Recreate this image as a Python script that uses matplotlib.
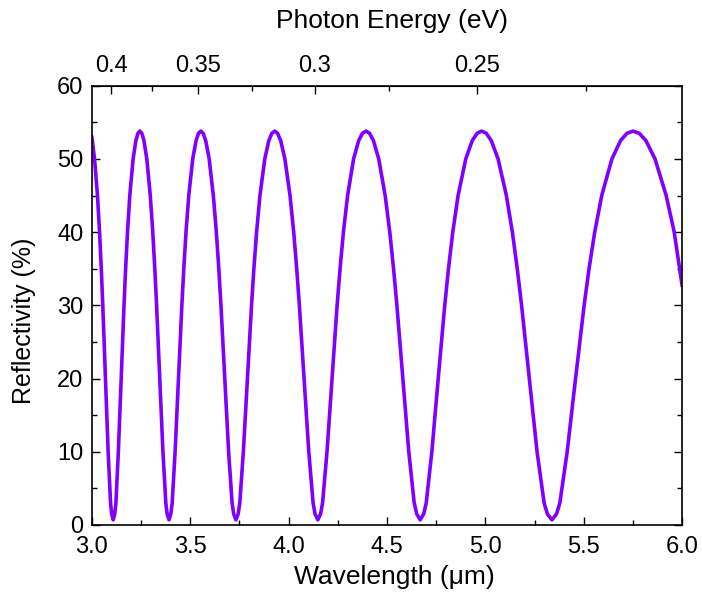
import numpy as np
import matplotlib
matplotlib.use('Agg')
import matplotlib.pyplot as plt
from matplotlib.ticker import MultipleLocator, FormatStrFormatter

plt.rcParams['font.family'] = ['Liberation Sans', 'DejaVu Sans']

# --- data (wavelength in um, reflectivity in %) ---
wavelength = [
    3.0000, 3.0145, 3.0294, 3.0401, 3.0488, 3.0564, 3.0700, 3.0836, 3.0959, 3.1015, 3.1094,
    3.1172, 3.1230, 3.1355, 3.1497, 3.1642, 3.1724, 3.1819, 3.1936, 3.2104, 3.2245, 3.2350, 3.2449,
    3.2547, 3.2654, 3.2800, 3.2976, 3.3103, 3.3206, 3.3297, 3.3458, 3.3619, 3.3766, 3.3833, 3.3926,
    3.4019, 3.4088, 3.4237, 3.4407, 3.4580, 3.4678, 3.4791, 3.4931, 3.5132, 3.5301, 3.5427, 3.5545,
    3.5663, 3.5792, 3.5967, 3.6179, 3.6332, 3.6456, 3.6566, 3.6761, 3.6955, 3.7132, 3.7213, 3.7326,
    3.7439, 3.7522, 3.7703, 3.7909, 3.8119, 3.8238, 3.8376, 3.8546, 3.8792, 3.8997, 3.9151, 3.9296,
    3.9442, 3.9599, 3.9814, 4.0074, 4.0261, 4.0414, 4.0548, 4.0788, 4.1027, 4.1246, 4.1346, 4.1485,
    4.1625, 4.1727, 4.1952, 4.2207, 4.2466, 4.2615, 4.2786, 4.2998, 4.3303, 4.3560, 4.3752, 4.3933,
    4.4113, 4.4311, 4.4579, 4.4906, 4.5141, 4.5333, 4.5502, 4.5804, 4.6106, 4.6382, 4.6510, 4.6685,
    4.6862, 4.6992, 4.7277, 4.7601, 4.7932, 4.8121, 4.8340, 4.8610, 4.9000, 4.9329, 4.9576, 4.9808,
    5.0040, 5.0294, 5.0641, 5.1062, 5.1367, 5.1615, 5.1835, 5.2227, 5.2621, 5.2980, 5.3146, 5.3376,
    5.3608, 5.3778, 5.4151, 5.4576, 5.5012, 5.5261, 5.5549, 5.5906, 5.6424, 5.6860, 5.7188, 5.7497,
    5.7810, 5.8150, 5.8613, 5.9178, 5.9587, 6.0000,
]
reflectivity = [
    53.2, 50.0, 45.0, 40.0, 35.0, 30.0, 20.0, 10.0, 3.0, 1.5, 0.7,
    1.5, 3.0, 10.0, 20.0, 30.0, 35.0, 40.0, 45.0, 50.0, 52.5, 53.5, 53.8,
    53.5, 52.5, 50.0, 45.0, 40.0, 35.0, 30.0, 20.0, 10.0, 3.0, 1.5, 0.7,
    1.5, 3.0, 10.0, 20.0, 30.0, 35.0, 40.0, 45.0, 50.0, 52.5, 53.5, 53.8,
    53.5, 52.5, 50.0, 45.0, 40.0, 35.0, 30.0, 20.0, 10.0, 3.0, 1.5, 0.7,
    1.5, 3.0, 10.0, 20.0, 30.0, 35.0, 40.0, 45.0, 50.0, 52.5, 53.5, 53.8,
    53.5, 52.5, 50.0, 45.0, 40.0, 35.0, 30.0, 20.0, 10.0, 3.0, 1.5, 0.7,
    1.5, 3.0, 10.0, 20.0, 30.0, 35.0, 40.0, 45.0, 50.0, 52.5, 53.5, 53.8,
    53.5, 52.5, 50.0, 45.0, 40.0, 35.0, 30.0, 20.0, 10.0, 3.0, 1.5, 0.7,
    1.5, 3.0, 10.0, 20.0, 30.0, 35.0, 40.0, 45.0, 50.0, 52.5, 53.5, 53.8,
    53.5, 52.5, 50.0, 45.0, 40.0, 35.0, 30.0, 20.0, 10.0, 3.0, 1.5, 0.7,
    1.5, 3.0, 10.0, 20.0, 30.0, 35.0, 40.0, 45.0, 50.0, 52.5, 53.5, 53.8,
    53.5, 52.5, 50.0, 45.0, 40.0, 32.5,
]

# top axis: photon energy ticks
energy_major = [0.4, 0.35, 0.3, 0.25]
energy_labels = ['0.4', '0.35', '0.3', '0.25']
energy_minor = [0.375, 0.325, 0.275, 0.225]
HC = 1.23984  # eV*um

fig = plt.figure(figsize=(7.02, 6.01), dpi=100)
ax = fig.add_axes([0.1306, 0.1265, 0.8414, 0.7309])

ax.plot(wavelength, reflectivity, color='#8000ff', lw=2.6,
        solid_joinstyle='round', solid_capstyle='butt')

ax.set_xlim(3.0, 6.0)
ax.set_ylim(0, 60)
ax.xaxis.set_major_locator(MultipleLocator(0.5))
ax.xaxis.set_minor_locator(MultipleLocator(0.25))
ax.xaxis.set_major_formatter(FormatStrFormatter('%.1f'))
ax.yaxis.set_major_locator(MultipleLocator(10))
ax.yaxis.set_minor_locator(MultipleLocator(5))

ax.tick_params(which='both', direction='in', top=False, right=True,
               labelsize=17, width=1.0, pad=6)
ax.tick_params(axis='x', pad=8)
ax.tick_params(which='major', length=6)
ax.tick_params(which='minor', length=3.5)
for s in ax.spines.values():
    s.set_linewidth(1.2)

ax.set_xlabel('Wavelength (\u03bcm)', fontsize=19, labelpad=5)
ax.set_ylabel('Reflectivity (%)', fontsize=18, labelpad=15)
ax.xaxis.label.set_x(0.513)
ax.yaxis.label.set_y(0.464)

# secondary axis on top in photon energy
sec = ax.secondary_xaxis('top', functions=(lambda x: HC / x, lambda e: HC / e))
sec.set_xticks(energy_major)
sec.set_xticklabels(energy_labels)
sec.set_xticks(energy_minor, minor=True)
sec.tick_params(which='both', direction='in', labelsize=17, width=1.0, pad=6)
sec.tick_params(which='major', length=6)
sec.tick_params(which='minor', length=3.5)
sec.set_xlabel('Photon Energy (eV)', fontsize=19, labelpad=20)
sec.xaxis.label.set_x(0.508)

fig.savefig('out.png', dpi=100)
